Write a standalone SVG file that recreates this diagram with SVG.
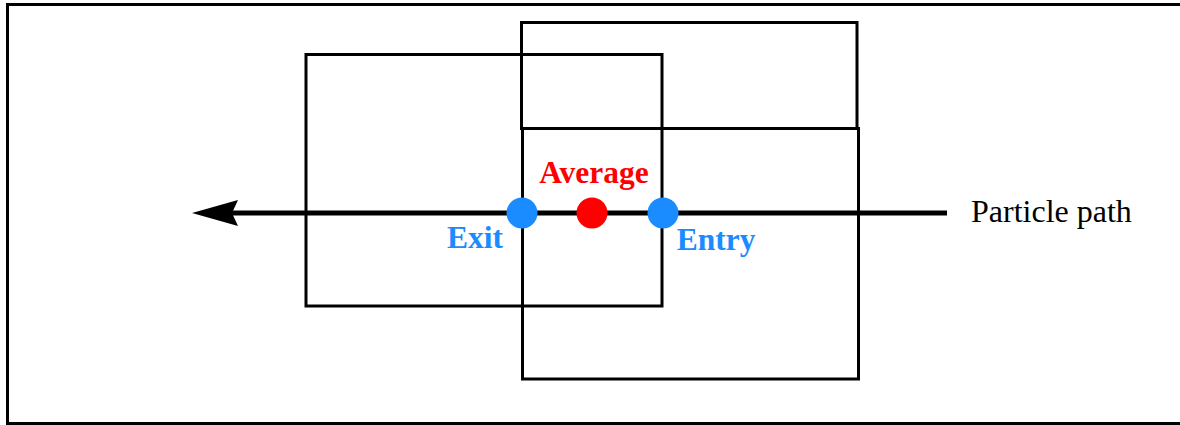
<svg xmlns="http://www.w3.org/2000/svg" width="1180" height="425" viewBox="0 0 1180 425">
<style>
.box{fill:none;stroke:#000;stroke-width:3}
.lbl{font-family:"Liberation Serif",serif;font-weight:bold;font-size:31.5px}
.blue{fill:#1a8cff}
.red{fill:#ff0000}
</style>
<defs>
<marker id="ah" markerUnits="userSpaceOnUse" markerWidth="50" markerHeight="30" refX="6" refY="15" orient="auto" overflow="visible">
<path d="M46,15 L0,2 L6,15 L0,28 Z" fill="#000"/>
</marker>
</defs>
<rect x="7.5" y="4.5" width="1180" height="419" fill="#fff" stroke="#000" stroke-width="3"/>
<g id="box-upper"><rect class="box" x="521.5" y="22.5" width="335.5" height="106"/></g>
<g id="box-left"><rect class="box" x="306" y="54.5" width="356" height="251.5"/></g>
<g id="box-lower"><rect class="box" x="522.5" y="128.5" width="336" height="250.5"/></g>
<g id="connectors">
<line x1="947" y1="213" x2="232" y2="213" stroke="#000" stroke-width="5" marker-end="url(#ah)"/>
</g>
<g id="exit"><circle cx="522" cy="213" r="15.5" class="blue"/><text x="475" y="248" text-anchor="middle" class="lbl blue">Exit</text></g>
<g id="average"><circle cx="592" cy="213" r="15.5" class="red"/><text x="594" y="183" text-anchor="middle" class="lbl red">Average</text></g>
<g id="entry"><circle cx="663" cy="213" r="15.5" class="blue"/><text x="716" y="250" text-anchor="middle" class="lbl blue">Entry</text></g>
<g id="particle-path"><text x="971" y="222" font-family="'Liberation Serif',serif" font-size="32">Particle path</text></g>
</svg>
